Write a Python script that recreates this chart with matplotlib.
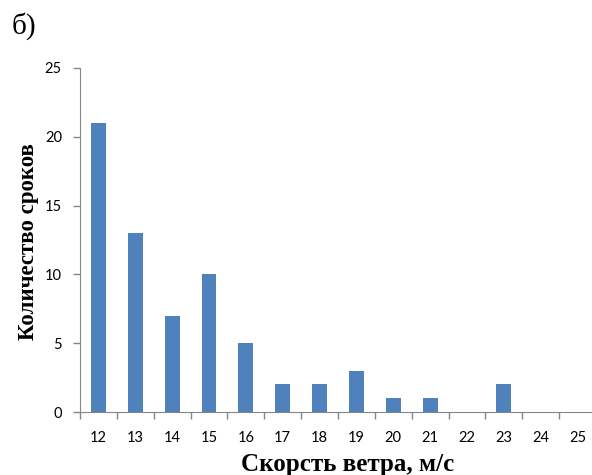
import numpy as np
import matplotlib.pyplot as plt

# Скорость ветра (м/с) и количество сроков
speeds = [12, 13, 14, 15, 16, 17, 18, 19, 20, 21, 22, 23, 24, 25]
counts = [21, 13, 7, 10, 5, 2, 2, 3, 1, 1, 0, 2, 0, 0]
y_ticks = [0, 5, 10, 15, 20, 25]

BAR_COLOR = "#4F81BD"
AXIS_COLOR = "#868686"
W, H = 592, 475

fig = plt.figure(figsize=(W / 100, H / 100), dpi=100)
ax = fig.add_axes([80 / W, 63 / H, 516 / W, 344 / H])

x = np.arange(len(speeds))
ax.bar(x, counts, width=0.4, color=BAR_COLOR)

ax.set_xlim(-0.5, len(speeds) - 0.5)
ax.set_ylim(0, 25)
ax.set_yticks(y_ticks)

# подписи категорий по центру, штрихи на границах
ax.set_xticks(x)
ax.set_xticklabels([str(s) for s in speeds], fontfamily="Lato", fontsize=10.5)
ax.set_xticks(np.arange(-0.5, len(speeds), 1), minor=True)
ax.tick_params(axis="x", which="major", length=0, pad=14)
ax.tick_params(axis="x", which="minor", length=5, color=AXIS_COLOR, width=1)
ax.tick_params(axis="y", length=5, color=AXIS_COLOR, width=1, pad=8)
for lab in ax.get_yticklabels():
    lab.set_fontfamily("Lato")
    lab.set_fontsize(10.5)

for side in ["top", "right"]:
    ax.spines[side].set_visible(False)
for side in ["left", "bottom"]:
    ax.spines[side].set_color(AXIS_COLOR)

# подписи осей
fig.text(348 / W, 1 - 471 / H, "Скорсть ветра, м/с", fontfamily="Liberation Serif",
         fontweight="bold", fontsize=18, ha="center", va="baseline")
fig.text(29 / W, 1 - 242 / H, "Количество сроков", fontfamily="Liberation Serif",
         fontweight="bold", fontsize=16.5, ha="center", va="center", rotation=90)

fig.text(12 / W, 1 - 34 / H, "б)", fontfamily="Liberation Serif", fontsize=21,
         va="baseline")

fig.savefig("out.png", dpi=100)
